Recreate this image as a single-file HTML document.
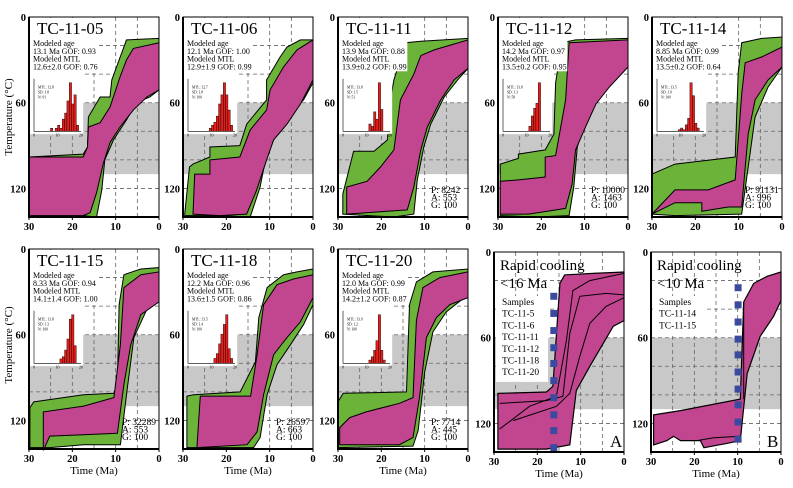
<!DOCTYPE html>
<html><head><meta charset="utf-8">
<style>
html,body{margin:0;padding:0;background:#fff;}
svg{display:block;font-family:"Liberation Serif",serif;}
</style></head>
<body>
<svg id="chart" width="793" height="488" viewBox="0 0 793 488" xmlns="http://www.w3.org/2000/svg"></svg>
<script>
// ---------- DATA ----------
const panelNames = ["TC-11-05","TC-11-06","TC-11-11","TC-11-12","TC-11-14","TC-11-15","TC-11-18","TC-11-20"];
const modeledAge = ["13.1 Ma GOF: 0.93","12.1 Ma GOF: 1.00","13.9 Ma GOF: 0.88","14.2 Ma GOF: 0.97","8.85 Ma GOF: 0.99","8.33 Ma GOF: 0.94","12.2 Ma GOF: 0.96","12.0 Ma GOF: 0.99"];
const modeledMTL = ["12.6\u00b12.0 GOF: 0.76","12.9\u00b11.9 GOF: 0.99","13.9\u00b10.2 GOF: 0.99","13.5\u00b10.2 GOF: 0.95","13.5\u00b10.2 GOF: 0.64","14.1\u00b11.4 GOF: 1.00","13.6\u00b11.5 GOF: 0.86","14.2\u00b11.2 GOF: 0.87"];
const histStats = [["MTL: 12.8","SD: 1.8","N: 91"],["MTL: 12.7","SD: 1.8","N: 100"],["MTL: 13.8","SD: 1.5","N: 51"],["MTL: 13.8","SD: 1.3","N: 58"],["MTL: 13.5","SD: 1.0","N: 100"],["MTL: 13.8","SD: 1.3","N: 100"],["MTL: 13.5","SD: 1.4","N: 100"],["MTL: 13.9","SD: 1.2","N: 100"]];
const pagStats = [null,null,["P: 8242","A: 553","G: 100"],["P: 10000","A: 1463","G: 100"],["P: 91131","A: 996","G: 100"],["P: 32289","A: 553","G: 100"],["P: 26597","A: 663","G: 100"],["P: 7714","A: 445","G: 100"]];
const histBins = [0,1,2,3,4,5,6,7,8,9,10,11,12,13,14,15,16,17,18,19];
const histCounts = [
 [0,0,0,0,0,0,0,1,0,1,2,1,4,6,10,16,9,12,2,0],
 [0,0,0,0,0,0,0,0,0,1,2,3,5,9,12,16,12,7,2,0],
 [0,0,0,0,0,0,0,0,0,0,0,3,2,8,5,20,9,0,0,0],
 [0,0,0,0,0,0,0,0,0,0,0,2,6,9,11,19,0,0,0,0],
 [0,0,0,0,0,0,0,0,0,1,2,1,4,8,30,22,5,2,0,0],
 [0,0,0,0,0,0,0,0,0,0,0,2,3,6,11,20,22,8,0,0],
 [0,0,0,0,0,0,0,0,0,0,0,2,4,8,12,16,20,6,2,0],
 [0,0,0,0,0,0,0,0,0,0,0,2,4,8,14,30,8,2,0,0]
];
const greenTop = [
 [[30,98],[17.5,96],[16.5,91],[16.3,70],[13.6,56],[11.3,56],[10.9,44],[9.8,35],[7.5,16],[0,15]],
 [[29.6,138],[28.5,105],[27.7,103],[23.8,98],[23.8,91],[16.9,90],[15.3,75],[10.7,58],[10.7,44],[7.6,28],[6,21],[2.9,16],[0,16]],
 [[28.9,124],[26.4,94],[21.7,94],[18.6,86],[17.9,58],[17.1,44],[14.4,18],[10.9,17],[0,15]],
 [[29.5,103],[25.3,99],[25.3,96],[19.1,93],[17.1,82],[16.7,46],[15.2,18],[12.1,16],[0,15]],
 [[30,110],[24.7,103],[10.8,98],[10.1,39],[9.3,18],[4.7,15],[0,14]],
 [[29.8,111],[28.9,107],[17.4,102],[10.4,101],[9.6,95],[9.2,39],[8.1,18],[4.2,14],[0,13]],
 [[29.1,103],[27.5,102],[16.8,100],[13.3,79],[12.5,48],[10.6,27],[6.8,18],[3.7,16],[0,14]],
 [[30,107],[28.8,101],[14.2,100],[13.5,39],[11.9,23],[8.1,16],[0,14]]
];
const greenBottom = [
 [[30,137],[17.5,139],[14.4,140],[13.2,121],[12.5,100],[10.5,86],[7.5,72],[5.2,60],[2.1,56],[0,51]],
 [[29.6,139],[21.6,139],[14.5,140],[12.2,119],[10.7,96],[8.4,82],[5.3,68],[2.2,58],[0,46]],
 [[28.9,138],[17.1,140],[12.5,138],[11.7,114],[10.2,91],[8.6,75],[5.5,56],[2.4,44],[0,36]],
 [[29.5,139],[21.4,140],[13.6,139],[12.5,119],[11.7,91],[9.8,72],[7.4,58],[4.3,46],[0,32]],
 [[30,138],[24.7,139],[9.3,138],[7.8,105],[6.2,70],[3.2,49],[0,35]],
 [[29.8,139],[25.2,139],[17.4,137],[8.9,137],[7.3,97],[5.8,62],[2.6,41],[0,34]],
 [[29.1,139],[13.7,139],[12.2,132],[10.6,102],[8.3,81],[5.2,67],[2.2,53],[0,39]],
 [[30,139],[12.7,138],[11.5,127],[10,86],[8.1,58],[5,44],[0,32]]
];
const magentaTop = [
 [[30,98],[17.5,98],[16.5,91],[16.3,77],[13.6,74],[11.3,63],[10.2,53],[9,42],[7.5,30],[5.9,22],[0,18]],
 [[27.7,138],[27.3,110],[23.8,110],[23.8,100],[16.9,98],[14.5,79],[10.7,65],[9.9,51],[6.8,35],[3.7,23],[0,16]],
 [[28,138],[28,119],[23.3,115],[20.2,105],[17.1,93],[15.6,58],[12.5,40],[10.9,27],[7.8,23],[0,16]],
 [[29.5,115],[25.3,114],[19.1,112],[19.1,98],[16.7,97],[14.4,58],[13.6,18],[0,16]],
 [[30,138],[24.7,121],[17,121],[10.8,114],[9.3,54],[8.5,32],[4.7,28],[0,21]],
 [[26.7,141],[26.7,114],[17.4,110],[10.4,104],[8.9,67],[8.1,27],[4.2,18],[0,16]],
 [[26.8,139],[26,103],[14.4,103],[12.9,74],[11.4,39],[8.3,25],[4.5,21],[0,18]],
 [[29.6,125],[27.3,118],[23.5,114],[15.8,108],[12.7,104],[11.9,50],[10.4,27],[6.5,20],[0,16]]
];
const magentaBottom = [
 [[30,139],[17.5,139],[15.9,137],[14.4,123],[12.8,102],[11.3,88],[9,77],[5.9,65],[2.8,56],[0,51]],
 [[27.7,138],[21.6,139],[15.3,138],[13,121],[10.7,100],[9.1,86],[6,75],[2.9,61],[0,44]],
 [[28,138],[18.7,136],[14,135],[12.5,119],[10.9,93],[9.4,77],[6.3,58],[3.2,44],[0,36]],
 [[29.5,138],[22.9,138],[14.4,134],[12.9,117],[12.1,93],[9.8,77],[7.4,61],[4.3,49],[0,35]],
 [[30,138],[24.7,130],[18.5,130],[18.5,136],[12.4,133],[9.3,133],[7.8,82],[6.2,58],[3.2,44],[0,35]],
 [[26.7,141],[25.2,131],[17.4,130],[9.6,129],[8.1,95],[6.5,67],[4.2,46],[0,37]],
 [[26.8,139],[15.2,137],[12.9,128],[11.4,102],[9.1,74],[6,62],[2.9,51],[0,34]],
 [[29.6,137],[15.8,137],[12.7,132],[11.2,104],[9.6,62],[7.3,48],[4.2,39],[0,34]]
];
const sumTitles = [["Rapid cooling","<16 Ma"],["Rapid cooling","<10 Ma"]];
const sumSamples = [["Samples","TC-11-5","TC-11-6","TC-11-11","TC-11-12","TC-11-18","TC-11-20"],["Samples","TC-11-14","TC-11-15"]];
const sumLetters = ["A","B"];
const sumTop = [
 [[29.1,99],[17.9,98],[16.4,94],[14.8,22],[13.7,16],[7.2,15],[0,14]],
 [[29.4,114],[23.2,111],[9.4,103],[8.6,35],[6.3,22],[3.2,17],[0,14]]
];
const sumBottom = [
 [[29.1,138],[17.9,138],[12.5,135],[11,97],[7.9,80],[2.5,52],[0,48]],
 [[29.4,135],[26.3,132],[24.8,129],[23.2,132],[18.6,132],[17.8,137],[12.5,134],[9.4,132],[7.8,85],[4.8,59],[1.7,45],[0,34]]
];
const sumInnerLines = [
 [
  [[28.7,124],[21.8,108],[15.6,101],[13.3,62],[11.8,27],[7.9,20],[0,15]],
  [[28.7,106],[17.9,104],[14.1,101],[12.5,57],[10.2,31],[4.1,29],[0,30]],
  [[25.6,118],[15.6,108],[12.5,99],[10.2,73],[7.9,50],[4.1,38],[0,32]]
 ],
 [
  [[19.4,132],[15.5,130],[9.4,129]],
  [[8.6,35],[8.6,103]]
 ]
];
const squareTime = [16.2, 9.9];
const squareTemps = [
 [31,43,55,67,78,90,102,114,125,137],
 [25,37,49,61,72,84,96,107,119,131]
];
const xTicks = [30,20,10,0];
const yTicks = [0,60,120];
const gridTimes = [25,20,15,10,5];
const gridTemps = [20,40,60,80,100,120];
const grayBand = [60,110];

// ---------- LAYOUT ----------
const W = 130, H = 200, TMAX = 140;
const origins = [[29,17],[183,17],[338,17],[498,17],[652,17],[29,249],[183,249],[338,249],[494,252],[651,252]];
const NS = 'http://www.w3.org/2000/svg';
const svg = document.getElementById('chart');
function mk(tag, attrs, parent){
  const e = document.createElementNS(NS, tag);
  for (const k in attrs) e.setAttribute(k, attrs[k]);
  (parent || svg).appendChild(e);
  return e;
}
function scales(o){
  return {
    x: t => o[0] + (30 - t) / 30 * W,
    y: T => o[1] + T / TMAX * H
  };
}
function ptsStr(arr, s){ return arr.map(p => s.x(p[0]).toFixed(1) + ',' + s.y(p[1]).toFixed(1)).join(' '); }
function envPoly(top, bottom, s){ return ptsStr(top.concat(bottom.slice().reverse()), s); }

function drawBase(g, o, s){
  const gr = mk('rect', {x:o[0], y:s.y(grayBand[0]), width:W, height:s.y(grayBand[1]) - s.y(grayBand[0]), fill:'#c8c8c8'}, g);
  
  
  gridTimes.forEach(t => {
    const l = mk('line', {x1:s.x(t), x2:s.x(t), y1:o[1], y2:o[1]+H, stroke:'#666', 'stroke-width':0.8, 'stroke-dasharray':'4,3'}, g);
    
    
  });
  gridTemps.forEach(T => {
    const l = mk('line', {x1:o[0], x2:o[0]+W, y1:s.y(T), y2:s.y(T), stroke:'#666', 'stroke-width':0.8, 'stroke-dasharray':'4,3'}, g);
    
    
  });
}
function drawAxes(g, o, s, showTitle){
  const fr = mk('rect', {x:o[0], y:o[1], width:W, height:H, fill:'none', stroke:'#000', 'stroke-width':1}, g);
  
  
  const lb = mk('path', {d:`M${o[0]},${o[1]} V${o[1]+H} H${o[0]+W}`, fill:'none', stroke:'#000', 'stroke-width':2}, g);
  
  
  xTicks.forEach(t => {
    const tk = mk('line', {x1:s.x(t), x2:s.x(t), y1:o[1]+H, y2:o[1]+H+3, stroke:'#000'}, g);
    
    
    const tx = mk('text', {x:s.x(t), y:o[1]+H+13, 'text-anchor':'middle', 'font-size':10.5, 'font-weight':'bold'}, g);
    tx.textContent = t;
    
    
  });
  yTicks.forEach(T => {
    const tx = mk('text', {x:o[0]-3, y:s.y(T)+4, 'text-anchor':'end', 'font-size':10.5, 'font-weight':'bold'}, g);
    tx.textContent = T;
    
    
  });
  if (showTitle){
    const tt = mk('text', {x:o[0]+W/2, y:o[1]+H+25, 'text-anchor':'middle', 'font-size':11}, g);
    tt.textContent = 'Time (Ma)';
    
    
  }
}

// ---------- MODEL PANELS ----------
for (let i = 0; i < 8; i++){
  const o = origins[i], s = scales(o);
  const g = mk('g', {});
  
  
  drawBase(g, o, s);
  const gp = mk('polygon', {points:envPoly(greenTop[i], greenBottom[i], s), fill:'#6cb33a', stroke:'#000', 'stroke-width':1}, g);
  
  
  const mp = mk('polygon', {points:envPoly(magentaTop[i], magentaBottom[i], s), fill:'#c2458f', stroke:'#000', 'stroke-width':1}, g);
  
  
  const tb = mk('rect', {x:o[0]+1, y:o[1]+1, width:s.x(14)-o[0]-1, height:s.y(38)-o[1]-1, fill:'#fff'}, g);
  
  
  const hb = mk('rect', {x:o[0]+1, y:s.y(38), width:s.x(17.5)-o[0]-1, height:s.y(82)-s.y(38), fill:'#fff'}, g);
  
  
  const nm = mk('text', {x:o[0]+8, y:o[1]+17, 'font-size':17}, g);
  nm.textContent = panelNames[i];
  
  
  const lines = ['Modeled age', modeledAge[i], 'Modeled MTL', modeledMTL[i]];
  lines.forEach((t, k) => {
    const tx = mk('text', {x:o[0]+4, y:o[1]+29+k*7.8, 'font-size':8}, g);
    tx.textContent = t;
    
    
  });
  const hx0 = o[0]+5, hx1 = o[0]+52, hyb = s.y(80), hyt = s.y(46);
  const hx = b => hx0 + b / 20 * (hx1 - hx0);
  const maxC = Math.max(...histCounts[i]);
  histBins.forEach((b, k) => {
    const c = histCounts[i][k];
    if (c <= 0) return;
    const h = c / maxC * (hyb - hyt);
    const r = mk('rect', {x:hx(b), y:hyb-h, width:hx(b+1)-hx(b), height:h, fill:'#e3201b', stroke:'#000', 'stroke-width':0.4}, g);
    
    
  });
  const ha = mk('path', {d:`M${hx0},${hyt-4} V${hyb} H${hx1}`, fill:'none', stroke:'#000', 'stroke-width':0.6}, g);
  
  
  [0,10,20].forEach(v => {
    const tx = mk('text', {x:hx(v), y:hyb+5, 'text-anchor':'middle', 'font-size':4}, g);
    tx.textContent = v;
    
    
  });
  histStats[i].forEach((t, k) => {
    const tx = mk('text', {x:hx0+4, y:hyt+6+k*5, 'font-size':3.6}, g);
    tx.textContent = t;
    
    
  });
  if (pagStats[i]){
    pagStats[i].forEach((t, k) => {
      const tx = mk('text', {x:o[0]+93, y:o[1]+176+k*7.5, 'font-size':9.5}, g);
      tx.textContent = t;
      
      
    });
  }
  drawAxes(g, o, s, i >= 5);
}

// ---------- SUMMARY PANELS ----------
for (let j = 0; j < 2; j++){
  const o = origins[8+j], s = scales(o);
  const g = mk('g', {});
  
  
  drawBase(g, o, s);
  const mp = mk('polygon', {points:envPoly(sumTop[j], sumBottom[j], s), fill:'#c2458f', stroke:'#000', 'stroke-width':1.2}, g);
  
  
  sumInnerLines[j].forEach(ln => {
    const pl = mk('polyline', {points:ptsStr(ln, s), fill:'none', stroke:'#000', 'stroke-width':1}, g);
    
    
  });
  const listH = sumSamples[j].length * 11.7 + 4;
  const wb = mk('rect', {x:o[0]+2, y:o[1]+44, width:52, height:listH, fill:'#fff'}, g);
  
  
  sumTitles[j].forEach((t, k) => {
    const tx = mk('text', {x:o[0]+6, y:o[1]+18+k*18, 'font-size':15}, g);
    tx.textContent = t;
    
    
  });
  sumSamples[j].forEach((t, k) => {
    const tx = mk('text', {x:o[0]+8, y:o[1]+53+k*11.7, 'font-size':9.5}, g);
    tx.textContent = t;
    
    
  });
  squareTemps[j].forEach(T => {
    const r = mk('rect', {x:s.x(squareTime[j])-3.5, y:s.y(T)-3.5, width:7, height:7, fill:'#3a4a9e'}, g);
    
    
  });
  const lt = mk('text', {x:o[0]+W-14, y:o[1]+H-5, 'font-size':17}, g);
  lt.textContent = sumLetters[j];
  
  
  drawAxes(g, o, s, true);
}

[117, 345].forEach(cy => {
  const t = mk('text', {x:12, y:cy, 'font-size':11, 'text-anchor':'middle', transform:`rotate(-90 12 ${cy})`});
  t.textContent = 'Temperature (\u00b0C)';
  
  
});
</script>
</body></html>
